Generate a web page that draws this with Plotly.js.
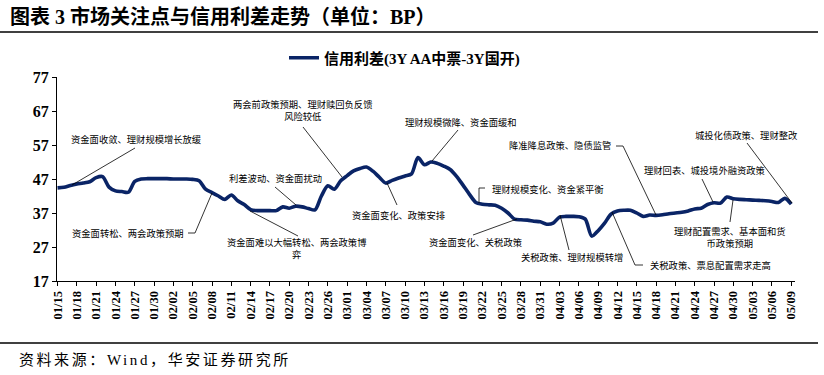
<!DOCTYPE html>
<html>
<head>
<meta charset="utf-8">
<script src="https://cdn.plot.ly/plotly-3.0.1.min.js"></script>
<style>
html,body{margin:0;padding:0;background:#fff;}
#chart{width:824px;height:375px;}
.annotation[data-index="1"] text{letter-spacing:2.6px;}
</style>
</head>
<body>
<div id="chart"></div>
<script>
// ---- data ----
var startDate = '2025-01-15';
var seriesName = '信用利差(3Y AA中票-3Y国开)';
var spreadValues = [
  44.4, 44.6, 45.1, 45.5, 45.8, 46.2, 47.4, 47.7, 44.6, 43.5,
  43.3, 43.1, 46.3, 47.0, 47.1, 47.1, 47.1, 47.1, 47.0, 47.0,
  47.0, 46.9, 46.5, 44.0, 43.0, 42.0, 41.0, 42.3, 40.6, 39.5,
  38.0, 37.7, 37.7, 37.7, 37.7, 38.8, 38.4, 39.0, 38.8, 38.3,
  37.9, 42.0, 45.0, 44.0, 46.5, 48.0, 49.4, 50.1, 50.5, 49.3,
  47.5, 45.8, 46.6, 47.3, 47.9, 48.5, 53.3, 51.2, 52.0, 51.6,
  50.8, 49.8, 47.8, 45.2, 42.5, 40.1, 39.6, 39.4, 39.3, 38.4,
  37.0, 35.2, 35.0, 34.9, 34.6, 34.4, 33.7, 34.0, 35.8, 36.0,
  36.0, 35.9, 35.2, 30.2, 31.8, 34.0, 36.7, 37.6, 37.8, 37.8,
  37.0, 36.0, 36.4, 36.3, 36.5, 36.8, 37.0, 37.2, 37.6, 38.2,
  38.4, 39.5, 40.0, 39.9, 41.7, 41.2, 41.0, 40.9, 40.8, 40.7,
  40.6, 40.4, 40.1, 41.3, 39.6
];
var yTicks = [17, 27, 37, 47, 57, 67, 77];
var titleText = '图表 3 市场关注点与信用利差走势（单位：BP）';
var sourceText = '资料来源：Wind，华安证券研究所';
var noteTexts = [
  '资金面收敛、理财规模增长放缓',
  '资金面转松、两会政策预期',
  '两会前政策预期、理财赎回负反馈<br>风险较低',
  '利差波动、资金面扰动',
  '资金面难以大幅转松、两会政策博<br>弈',
  '资金面变化、政策安排',
  '理财规模微降、资金面缓和',
  '理财规模变化、资金紧平衡',
  '资金面变化、关税政策',
  '关税政策、理财规模转增',
  '降准降息政策、隐债监管',
  '理财回表、城投境外融资政策',
  '城投化债政策、理财整改',
  '理财配置需求、基本面和货<br>币政策预期',
  '关税政策、票息配置需求走高'
];

// ---- build dates ----
var dates = [];
var t0 = Date.UTC(2025, 0, 15);
for (var i = 0; i < spreadValues.length; i++) {
  var d = new Date(t0 + i * 86400000);
  dates.push(d.toISOString().slice(0, 10));
}

// ---- layout helpers (pixel -> paper) ----
var L = 57, R = 795, T = 77, B = 281;
var W = R - L, H = B - T;
function px(x) { return (x - L) / W; }
function py(y) { return (B - y) / H; }

var FONT = "'Times New Roman','Liberation Serif','Noto Sans CJK SC',serif";

// annotation placements: [x, y, xanchor]
var notePos = [
  [69, 139, 'left'], [70, 233, 'left'], [302.5, 110.5, 'center'], [226.7, 178.3, 'left'],
  [296, 248, 'center'], [350, 215, 'left'], [403.3, 122.7, 'left'], [490, 189, 'left'],
  [426.7, 242, 'left'], [519.3, 257.3, 'left'], [507.3, 145.7, 'left'], [641.7, 170.7, 'left'],
  [693.3, 135.7, 'left'], [729.5, 237, 'center'], [648.3, 265.7, 'left']
];
var leaders = [
  [[135,148],[72,185]],
  [[188,233],[195,233],[212,193]],
  [[303,127],[342,177]],
  [[275,187],[296,205]],
  [[250,211],[298,236]],
  [[387,183],[397,205]],
  [[458,130],[432,161]],
  [[479,203],[479,188],[485,188]],
  [[473,235],[517,219]],
  [[560,215],[569,250]],
  [[616,146],[623,146],[656,215]],
  [[702,179],[713,202]],
  [[747,143],[792,203]],
  [[733,200],[730,222]],
  [[612,212],[635,265],[643,265]]
];

var annotations = [];
annotations.push({
  text: '<b>' + titleText + '</b>', xref: 'paper', yref: 'paper',
  x: px(8), y: py(17), xanchor: 'left', yanchor: 'middle', showarrow: false,
  font: {family: FONT, size: 20, color: '#000'}
});
annotations.push({
  text: sourceText, xref: 'paper', yref: 'paper',
  x: px(39), y: py(360), xanchor: 'left', yanchor: 'middle', showarrow: false,
  font: {family: FONT, size: 15, color: '#000'}
});
for (var k = 0; k < noteTexts.length; k++) {
  annotations.push({
    text: noteTexts[k], xref: 'paper', yref: 'paper',
    x: px(notePos[k][0]), y: py(notePos[k][1]), xanchor: notePos[k][2], yanchor: 'middle',
    align: 'center', showarrow: false,
    font: {family: FONT, size: 9.3, color: '#000'}
  });
}

var shapes = [];
shapes.push({type: 'line', xref: 'paper', yref: 'paper', x0: px(0), x1: px(818), y0: py(32), y1: py(32),
  line: {color: '#000', width: 1.5}});
shapes.push({type: 'line', xref: 'paper', yref: 'paper', x0: px(0), x1: px(818), y0: py(343), y1: py(343),
  line: {color: '#000', width: 1.5}});
for (var m = 0; m < leaders.length; m++) {
  var pts = leaders[m];
  var path = '';
  for (var j = 0; j < pts.length; j++) {
    path += (j === 0 ? 'M' : 'L') + px(pts[j][0]) + ',' + py(pts[j][1]) + ' ';
  }
  shapes.push({type: 'path', xref: 'paper', yref: 'paper', path: path,
    line: {color: '#000', width: 0.8}});
}

var trace = {
  x: dates, y: spreadValues, type: 'scatter', mode: 'lines', name: seriesName,
  line: {color: '#0a2466', width: 3.6, shape: 'spline', smoothing: 0.8}
};

var layout = {
  width: 824, height: 375,
  margin: {l: L, r: 824 - R, t: T, b: 375 - B, pad: 0},
  paper_bgcolor: '#fff', plot_bgcolor: '#fff',
  showlegend: true,
  legend: {
    orientation: 'h', x: px(284), y: py(58), xanchor: 'left', yanchor: 'middle',
    font: {family: FONT, size: 15, color: '#000', weight: 'bold'},
    bgcolor: 'rgba(0,0,0,0)', itemwidth: 30
  },
  xaxis: {
    type: 'date',
    range: ['2025-01-14 22:00', '2025-05-09 14:00'],
    tick0: startDate, dtick: 3 * 86400000, tickformat: '%m/%d',
    tickangle: -90, ticks: 'outside', ticklen: 4, tickwidth: 1, tickcolor: '#000',
    showline: true, linecolor: '#000', linewidth: 1, showgrid: false, zeroline: false,
    tickfont: {family: FONT, size: 12.5, color: '#000', weight: 'bold'}
  },
  yaxis: {
    range: [17, 77], tickvals: yTicks, ticks: 'outside', ticklen: 4, tickwidth: 1, tickcolor: '#000',
    showline: true, linecolor: '#000', linewidth: 1, showgrid: false, zeroline: false,
    tickfont: {family: FONT, size: 16, color: '#000', weight: 'bold'}
  },
  annotations: annotations,
  shapes: shapes
};

Plotly.newPlot('chart', [trace], layout, {displayModeBar: false, staticPlot: true});
</script>
</body>
</html>
